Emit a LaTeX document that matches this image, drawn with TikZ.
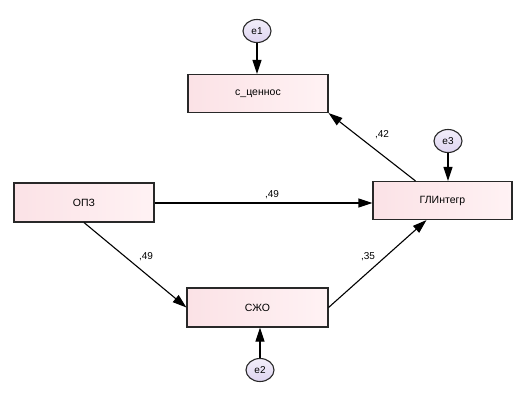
\documentclass[tikz,border=0pt]{standalone}
\usepackage{fontspec}
\setmainfont{Liberation Sans}
\usetikzlibrary{arrows.meta,calc,shapes.geometric}
\definecolor{boxL}{RGB}{251,226,230}
\definecolor{boxR}{RGB}{255,242,244}
\definecolor{ellT}{RGB}{242,238,250}
\definecolor{ellB}{RGB}{222,212,240}
\definecolor{edge}{RGB}{40,40,40}
\tikzset{
  varbox/.style={draw=edge, line width=1.1pt, left color=boxL, right color=boxR,
    minimum width=140pt, minimum height=38pt, inner sep=0pt, font=\fontsize{10.5}{12}\selectfont},
  errnode/.style={ellipse, draw=edge, line width=1.1pt, top color=ellT, bottom color=ellB,
    minimum width=28pt, minimum height=23pt, inner sep=0pt, font=\fontsize{10}{11}\selectfont},
  path/.style={draw=black, line width=1.1pt, -{Triangle[length=14pt,width=9pt]}},
  coef/.style={font=\fontsize{10}{11}\selectfont, inner sep=0pt}
}
\begin{document}
\begin{tikzpicture}[x=1pt,y=-1pt]
\useasboundingbox (0,0) rectangle (520,400);
\node[varbox] (c) at (258,93.5) {c\_ценнос};
\node[varbox, minimum width=139pt] (g) at (442.5,200.5) {ГЛИнтегр};
\node[varbox, minimum width=141pt, minimum height=39pt] (s) at (257.5,307.5) {СЖО};
\node[varbox, minimum height=39pt] (o) at (84,202.5) {ОПЗ};
\node[errnode] (e1) at (257,31) {e1};
\node[errnode] (e3) at (448,141) {e3};
\node[errnode] (e2) at (260,370) {e2};
\coordinate (gin) at ($(g.south)+(-16,0)$);
\coordinate (gout) at ($(g.north)+(-27,0)$);
\coordinate (ostart) at ($(o.east)+(0,0.5)$);
\path[path] (ostart) -- (ostart -| g.west);
\path[path] (o.south) -- (s.west);
\path[path] (s.east) -- (gin);
\path[path] (gout) -- (c.south east);
\path[path] (e1) -- (e1 |- c.north);
\path[path] (e3) -- (e3 |- g.north);
\path[path] (e2) -- (e2 |- s.south);
\node[coef] (l1) at (272,195) {,49};
\node[coef] (l2) at (146,257) {,49};
\node[coef] (l3) at (368,257) {,35};
\node[coef] (l4) at (382,135) {,42};
\end{tikzpicture}
\end{document}
